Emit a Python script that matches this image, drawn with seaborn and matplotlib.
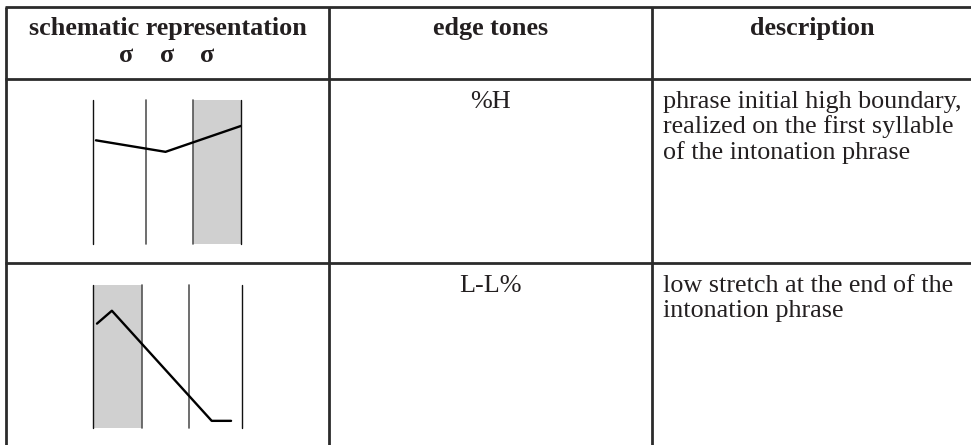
"""
Edge tone schematics table (%H and L-L%) redrawn with seaborn/matplotlib.
"""

import matplotlib.pyplot as plt
import seaborn as sns

sns.set_style("white")
plt.rcParams["font.family"] = ["Liberation Serif", "DejaVu Serif"]

# --------------------------------------------------------------------------
# Table content
# --------------------------------------------------------------------------
headers = ["schematic representation", "edge tones", "description"]
syllables = ["σ", "σ", "σ"]
edge_tones = ["%H", "L-L%"]
descriptions = [
    ["phrase initial high boundary,", "realized on the first syllable",
     "of the intonation phrase"],
    ["low stretch at the end of the", "intonation phrase"],
]

# schematic 1 (%H): syllable boundaries, accented syllable, pitch contour
bounds_1 = [0.0, 1.07, 2.03, 3.0]
accent_1 = 2
contour_x_1 = [0.06, 1.47, 3.0]
contour_y_1 = [0.72, 0.64, 0.82]

# schematic 2 (L-L%)
bounds_2 = [0.0, 0.99, 1.93, 3.0]
accent_2 = 0
contour_x_2 = [0.08, 0.38, 2.39, 2.78]
contour_y_2 = [0.73, 0.82, 0.05, 0.05]

# --------------------------------------------------------------------------
# Layout (pixels)
# --------------------------------------------------------------------------
W, H = 971, 445
col_edges = [6, 329, 652]
row_edges = [7, 79, 263]
text_color = "#231f20"
line_color = "#2b2b2b"
FS = 18.8
LINE_H = 25.5


def draw_schematic(fig, box, bounds, accent, cx, cy):
    x0, y0, x1, y1 = box
    sax = fig.add_axes([x0 / W, 1 - y1 / H, (x1 - x0) / W, (y1 - y0) / H])
    sax.axvspan(bounds[accent], bounds[accent + 1], color="#d0d0d0", lw=0)
    for i, b in enumerate(bounds):
        sax.axvline(b, color="#111111" if i in (0, 3) else "#555555",
                    lw=1.0 if i in (0, 3) else 1.2, clip_on=False)
    sns.lineplot(x=cx, y=cy, ax=sax, color="black", lw=1.7, sort=False)
    sax.set_xlim(0, 3)
    sax.set_ylim(0, 1)
    sax.axis("off")


def main():
    fig = plt.figure(figsize=(W / 100, H / 100), dpi=100)
    ax = fig.add_axes([0, 0, 1, 1])
    ax.set_xlim(0, W)
    ax.set_ylim(H, 0)
    ax.axis("off")

    # grid
    for y in row_edges:
        ax.plot([col_edges[0] - 1, W], [y, y], color=line_color, lw=2.0,
                solid_capstyle="butt")
    for x in col_edges:
        ax.plot([x, x], [row_edges[0], H], color=line_color, lw=2.0,
                solid_capstyle="butt")

    # headers
    centers = [(col_edges[0] + col_edges[1]) / 2,
               (col_edges[1] + col_edges[2]) / 2,
               812]
    for c, h in zip(centers, headers):
        ax.text(c, 35, h, ha="center", va="baseline", fontsize=FS,
                fontweight="bold", color=text_color)
    for dx, s in zip([-41, 0, 40], syllables):
        ax.text(centers[0] + dx, 62, s, ha="center", va="baseline",
                fontsize=FS, fontweight="bold", color=text_color)

    # body rows
    for top, tone, desc in zip(row_edges[1:], edge_tones, descriptions):
        ax.text(centers[1], top + 29, tone, ha="center", va="baseline",
                fontsize=FS, color=text_color)
        for i, line in enumerate(desc):
            ax.text(663, top + 29 + i * LINE_H, line, ha="left",
                    va="baseline", fontsize=FS, color=text_color)

    draw_schematic(fig, (93, 100, 241, 244), bounds_1, accent_1,
                   contour_x_1, contour_y_1)
    draw_schematic(fig, (93, 285, 242, 428), bounds_2, accent_2,
                   contour_x_2, contour_y_2)

    fig.savefig("out.png", dpi=100)


if __name__ == "__main__":
    main()
